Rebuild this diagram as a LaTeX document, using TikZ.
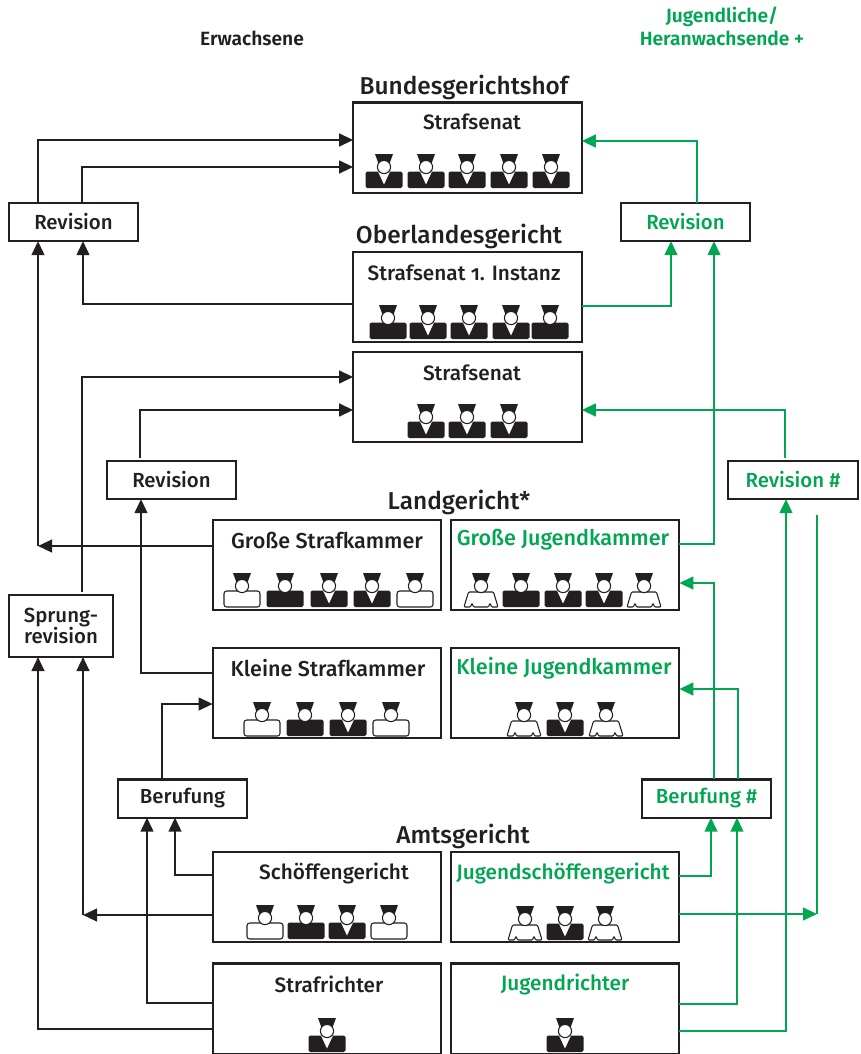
\documentclass[tikz,border=0pt]{standalone}
\usepackage{fontspec}
\setmainfont{Fira Sans Medium}
\newfontfamily\hdfont{Fira Sans SemiBold}
\usetikzlibrary{arrows.meta,calc}
\definecolor{ink}{HTML}{231F20}
\definecolor{grn}{HTML}{00A651}
\newcommand\judgeJ{%
  \fill[ink,rounded corners=1.2] (-18.5,0) -- (-18.5,-16.5) -- (18.5,-16.5) -- (18.5,0) -- cycle;
  \fill[white] (-6,-16.5) -- (6,-16.5) -- (0,-3.5) -- cycle;}
\newcommand\judgeP{%
  \fill[ink,rounded corners=1.2] (-18.5,0) -- (-18.5,-16.5) -- (18.5,-16.5) -- (18.5,0) -- cycle;}
\newcommand\judgeS{%
  \draw[ink,fill=white,line width=.8pt,rounded corners=2] (-18,0) -- (-18,-16) -- (18,-16) -- (18,0) -- cycle;}
\newcommand\judgeY{%
  \draw[ink,fill=white,line width=.8pt,line join=round,rounded corners=.8]
    (-17,0) -- (-12.5,-15) -- (12.5,-15) -- (17,0) -- (10.5,0) -- (9,-4) -- (7.5,0) -- (-7.5,0) -- (-9,-4) -- (-10.5,0) -- cycle;}
\tikzset{
  x=.75pt,y=-.75pt,
  pics/judge/.style={code={%
    \csname judge#1\endcsname
    \fill[ink] (-9,-34) -- (9,-34) -- (5,-23) -- (-5,-23) -- cycle;
    \draw[ink,fill=white,line width=.8pt] (0,-21) circle (6.6);
  }},
  court/.style={draw=ink,line width=1.7pt,fill=white,inner sep=0,outer sep=0,minimum width=171.5pt,minimum height=67.7pt},
  small/.style={draw=ink,line width=1.7pt,fill=white,inner sep=0,outer sep=0,minimum width=97pt,minimum height=28.7pt,font=\fontsize{15.3}{16.2}\selectfont},
  lbl/.style={inner sep=0,font=\fontsize{15.6}{18}\selectfont,text=ink},
  lblw/.style={inner sep=0,font=\fontsize{16.2}{18}\selectfont,text=ink},
  glbl/.style={lbl,text=grn},
  glblw/.style={lblw,text=grn},
  ttl/.style={inner sep=0,font=\fontsize{18.3}{20}\selectfont,text=ink},
  head/.style={inner sep=0,font=\hdfont\fontsize{14.4}{17.3}\selectfont,align=center},
  blk/.style={draw=ink,line width=1.65pt,-{Triangle[length=10.5pt,width=9.5pt]}},
  gr/.style={draw=grn,line width=1.65pt,-{Triangle[length=10.5pt,width=9.5pt]}},
  grp/.style={draw=grn,line width=1.65pt},
}
\begin{document}
\begin{tikzpicture}
\useasboundingbox (0,0) rectangle (861,1054);
% court boxes
\node[court] (bgh) at (467.5,147.5) {};
\node[court] (olg) at (467.5,297) {};
\node[court] (sen) at (467.5,397) {};
\node[court] (gsk) at (327,565) {};
\node[court] (gjk) at (565,565) {};
\node[court] (ksk) at (327,693) {};
\node[court] (kjk) at (565,693) {};
\node[court] (sch) at (327,897) {};
\node[court] (jsg) at (565,897) {};
\node[court] (str) at (327,1008.5) {};
\node[court] (jur) at (565,1008.5) {};
% small boxes
\node[small,text=ink] (revL) at (73.5,222) {\raisebox{-.6pt}{Revision}};
\node[small,text=grn] (revR) at (685.5,222) {\raisebox{-.6pt}{Revision}};
\node[small,text=ink] (revM) at (171.5,480) {\raisebox{-.6pt}{Revision}};
\node[small,text=grn] (revH) at (793,480) {\raisebox{-.6pt}{Revision \#}};
\node[small,text=ink,minimum width=78pt,minimum height=46.5pt,align=center] (spr) at (61,626) {Sprung-\\[-1pt]revision};
\node[small,text=ink] (ber) at (182.5,798.5) {\raisebox{-.6pt}{Berufung}};
\node[small,text=grn] (berH) at (706.5,798.5) {\raisebox{-.6pt}{Berufung \#}};
% headings
\node[head,text=ink] (hE) at (252,38) {Erwachsene};
\node[head,text=grn] (hJ) at (722,26.5) {Jugendliche/\\Heranwachsende +};
\node[ttl] (t1) at (464,87) {Bundesgerichtshof};
\node[ttl] (t2) at (459,236) {Oberlandesgericht};
\node[ttl] (t3) at (459,502) {Landgericht*};
\node[ttl] (t4) at (463,836) {Amtsgericht};
% labels
\node[lbl] (l1) at (472,122) {Strafsenat};
\node[lbl] (l2) at (464,273) {Strafsenat {\addfontfeatures{Numbers=OldStyle}1.} Instanz};
\node[lbl] (l3) at (472,373) {Strafsenat};
\node[lblw] (l4) at (327,540) {Große Strafkammer};
\node[glblw] (l5) at (563,540) {Große Jugendkammer};
\node[lblw] (l6) at (328,668) {Kleine Strafkammer};
\node[glblw] (l7) at (564,668) {Kleine Jugendkammer};
\node[lbl] (l8) at (334,873) {Schöffengericht};
\node[glbl] (l9) at (563,873) {Jugendschöffengericht};
\node[lbl] (l10) at (329,984) {Strafrichter};
\node[glbl] (l11) at (565,984) {Jugendrichter};
% judges
\foreach \x/\t in {384/J,426/J,467/J,509/J,551/J} \pic at (\x,188) {judge=\t};
\foreach \x/\t in {388/P,428/J,469/J,511/J,550/P} \pic at (\x,339) {judge=\t};
\foreach \x/\t in {426/J,467/J,509/J} \pic at (\x,438) {judge=\t};
\foreach \x/\t in {242/S,285/P,329/J,372/J,415/S} \pic at (\x,607) {judge=\t};
\foreach \x/\t in {481/Y,521/P,563/J,604/J,644/Y} \pic at (\x,607) {judge=\t};
\foreach \x/\t in {262/S,305/P,348/J,391/S} \pic at (\x,736) {judge=\t};
\foreach \x/\t in {524/Y,565/J,606/Y} \pic at (\x,736) {judge=\t};
\foreach \x/\t in {265/S,306/P,347/J,389/S} \pic at (\x,939) {judge=\t};
\foreach \x/\t in {525/Y,565/J,605/Y} \pic at (\x,940) {judge=\t};
\pic at (327,1052) {judge=J};
\pic at (565,1052) {judge=J};
% free ends
\coordinate (tipA) at (38,546);
\coordinate (tipB) at (83,915);
\coordinate (tipC) at (817,914);
\coordinate (topC) at (817,515);
% black connectors
\draw[blk] (revL.north -| 38,0) |- (bgh.west |- 0,140);
\draw[blk] (revL.north -| 82,0) |- (bgh.west |- 0,167);
\draw[blk] (olg.west |- 0,304) -| (revL.south -| 83,0);
\draw[blk] (gsk.west |- 0,546) -- (tipA);
\draw[blk] (tipA) -- (revL.south -| 38,0);
\draw[blk,shorten <=2pt] (spr.north -| 82,0) |- (sen.west |- 0,377);
\draw[blk,shorten <=2pt] (revM.north -| 140,0) |- (sen.west |- 0,410);
\draw[blk] (ksk.west |- 0,673) -| (revM.south -| 141,0);
\draw[blk] (ber.north -| 162,0) |- (ksk.west |- 0,704);
\draw[blk] (sch.west |- 0,875) -| (ber.south -| 175,0);
\draw[blk] (sch.west |- 0,915) -- (tipB);
\draw[blk] (tipB) -- (spr.south -| 83,0);
\draw[blk] (str.west |- 0,1003) -| (ber.south -| 147,0);
\draw[blk] (str.west |- 0,1029) -| (spr.south -| 38,0);
% green connectors
\draw[gr] (revR.north -| 697,0) |- (bgh.east |- 0,141);
\draw[gr] (olg.east |- 0,306) -| (revR.south -| 671,0);
\draw[gr] (gjk.east |- 0,544) -| (revR.south -| 714,0);
\draw[gr,shorten <=2pt] (revH.north -| 785,0) |- (sen.east |- 0,410);
\draw[gr] (jur.east |- 0,1031) -| (revH.south -| 786,0);
\draw[gr] (jsg.east |- 0,914) -- (tipC);
\draw[grp] (tipC) -- (topC);
\draw[gr] (berH.north -| 714,0) |- (gjk.east |- 0,583);
\draw[gr] (berH.north -| 738,0) |- (kjk.east |- 0,689);
\draw[gr] (jsg.east |- 0,876) -| (berH.south -| 711,0);
\draw[gr] (jur.east |- 0,1004) -| (berH.south -| 737,0);
\end{tikzpicture}
\end{document}
